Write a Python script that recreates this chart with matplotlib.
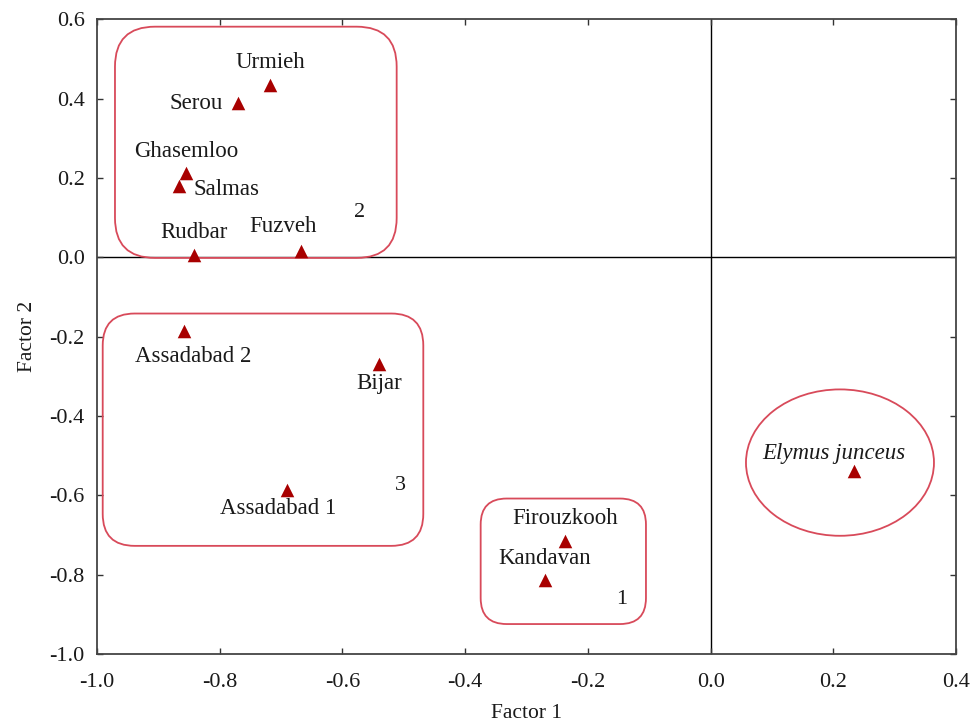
import matplotlib
matplotlib.use("Agg")
import matplotlib.pyplot as plt
from matplotlib.patches import FancyBboxPatch, Ellipse

plt.rcParams['font.family'] = ['Liberation Serif', 'DejaVu Serif']

names = ["Urmieh", "Serou", "Ghasemloo", "Salmas", "Rudbar", "Fuzveh",
         "Assadabad 2", "Bijar", "Assadabad 1", "Firouzkooh", "Kandavan",
         "Elymus junceus"]
factor1 = [-0.718, -0.771, -0.855, -0.867, -0.842, -0.668,
           -0.858, -0.540, -0.691, -0.237, -0.270, 0.233]
factor2 = [0.435, 0.389, 0.212, 0.179, 0.007, 0.015,
           -0.186, -0.270, -0.586, -0.715, -0.813, -0.539]
# label offsets in pixels
offsets = [(0, 22), (-41, 0), (0, 22), (48, -3), (0, 22), (-18, 25),
           (9, -25), (0, -19), (-8, -19), (0, 22), (0, 21), (-20, 18)]

group_labels = ["2", "3", "1"]
group_x = [-0.5725, -0.506, -0.145]
group_y = [0.112, -0.576, -0.862]

fig = plt.figure(figsize=(9.74, 7.24), dpi=100)
ax = fig.add_axes([97/974, (724-654)/724, (956-97)/974, (654-19.3)/724])
ax.set_xlim(-1.0, 0.4)
ax.set_ylim(-1.0, 0.6)

ax.axhline(0, color='black', lw=1.0, zorder=1)
ax.axvline(0, color='black', lw=1.0, zorder=1)

ax.scatter(factor1, factor2, marker='^', s=95, color='#a80000', zorder=3,
           linewidths=0)

for n, x, y, off in zip(names, factor1, factor2, offsets):
    style = 'italic' if n == "Elymus junceus" else 'normal'
    ax.annotate(n, (x, y), xytext=off, textcoords='offset pixels',
                ha='center', va='center', fontsize=16.5, style=style,
                color='#1a1a1a', zorder=4)

for g, x, y in zip(group_labels, group_x, group_y):
    ax.text(x, y, g, ha='center', va='center', fontsize=16, color='#1a1a1a')

# group outlines
xs = 613.6  # px per x unit
ys = 397.3  # px per y unit
box_color = '#d84a5a'
boxes = [(-0.9707, -0.0015, 0.4591, 0.5829, 40),
         (-0.9907, -0.7274, 0.5225, 0.5857, 32),
         (-0.3747, -0.9245, 0.2694, 0.3164, 26)]
for x0, y0, w, h, r in boxes:
    p = FancyBboxPatch((x0, y0), w, h,
                       boxstyle=f"round,pad=0,rounding_size={r/xs}",
                       mutation_aspect=xs/ys, fill=False,
                       edgecolor=box_color, lw=1.3, zorder=2)
    ax.add_patch(p)
ax.add_patch(Ellipse((0.2109, -0.5175), 0.3064, 0.369, fill=False,
                     edgecolor=box_color, lw=1.3, zorder=2))

ticks_x = [-1.0, -0.8, -0.6, -0.4, -0.2, 0.0, 0.2, 0.4]
ticks_y = [-1.0, -0.8, -0.6, -0.4, -0.2, 0.0, 0.2, 0.4, 0.6]
ax.set_xticks(ticks_x)
ax.set_yticks(ticks_y)
ax.set_xticklabels([f"{t:.1f}" for t in ticks_x])
ax.set_yticklabels([f"{t:.1f}" for t in ticks_y])
ax.tick_params(direction='in', top=True, right=True, length=4, width=1,
               labelsize=16, colors='#333333', labelcolor='#1a1a1a')
ax.tick_params(axis='x', pad=14)
ax.tick_params(axis='y', pad=9)
for s in ax.spines.values():
    s.set_color('#444444')
    s.set_linewidth(1.3)

ax.set_xlabel("Factor 1", fontsize=15.5, color='#1a1a1a', labelpad=8)
ax.set_ylabel("Factor 2", fontsize=15.5, color='#1a1a1a', labelpad=9)

fig.savefig("out.png", dpi=100)
